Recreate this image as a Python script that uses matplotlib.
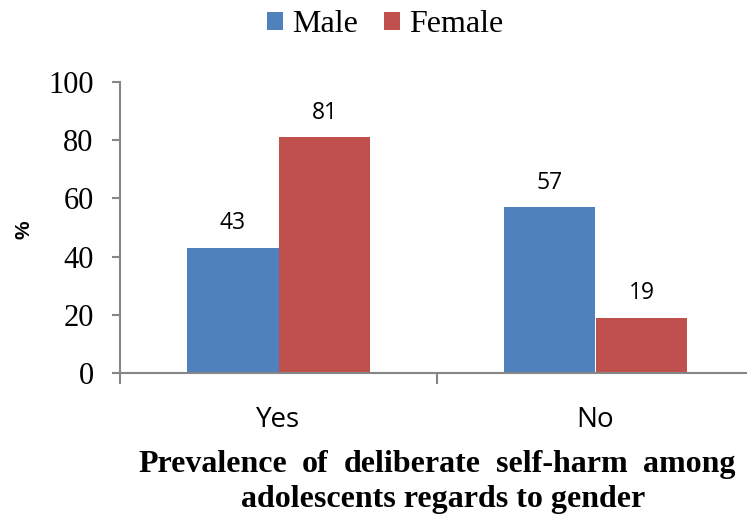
import matplotlib
matplotlib.use("Agg")
import matplotlib.pyplot as plt
import numpy as np
from matplotlib.patches import Patch
from matplotlib.font_manager import FontProperties

categories = ["Yes", "No"]
series_names = ["Male", "Female"]
male = [43, 57]
female = [81, 19]
colors = ["#4F81BD", "#C0504D"]
yticks = [0, 20, 40, 60, 80, 100]
title_line1 = ["Prevalence", "of", "deliberate", "self-harm", "among"]
title_line2 = "adolescents regards to gender"

W, H, DPI = 747, 515, 100
fig = plt.figure(figsize=(W / DPI, H / DPI), dpi=DPI)
ax = fig.add_axes([120 / W, (H - 373) / H, 1 - 120 / W, (373 - 82) / H])

x = np.arange(len(categories))
bw = 0.29
axis_gray = "#868686"

for i, (vals, name) in enumerate(zip([male, female], series_names)):
    pos = x + (i - 0.5) * bw
    ax.bar(pos, vals, width=bw, color=colors[i], label=name, zorder=2)
    for p, v in zip(pos, vals):
        ax.annotate(f"{v}", (p, v), xytext=(0, 9), textcoords="offset points",
                    ha="center", va="bottom", fontsize=16.5, family="Open Sans",
                    color="black")

ax.set_ylim(0, 100)
ax.set_xlim(-0.5, 0.5 + (W - 437) / 317)
ax.set_yticks(yticks)
ax.set_yticklabels([str(t) for t in yticks], family="Liberation Serif", fontsize=22)
ax.tick_params(axis="y", length=6, width=1.5, color=axis_gray, pad=13)

ax.set_xticks(x)
ax.set_xticklabels(categories, family="Open Sans", fontsize=20)
ax.tick_params(axis="x", which="major", length=0, pad=24)
ax.set_xticks([-0.5, 0.5], minor=True)
ax.tick_params(axis="x", which="minor", length=8, width=1.5, color=axis_gray)

for side in ["top", "right"]:
    ax.spines[side].set_visible(False)
for side in ["left", "bottom"]:
    ax.spines[side].set_color(axis_gray)
    ax.spines[side].set_linewidth(1.5)

fig.text(24 / W, 1 - 230 / H, "%", rotation=90, ha="center", va="center",
         fontsize=15, fontweight="bold", family="Liberation Sans")

legend_font = FontProperties(family="Liberation Serif", size=23)
handles = [Patch(facecolor=c, edgecolor="none") for c in colors]
fig.legend(handles, series_names, loc="center", bbox_to_anchor=(385 / W, 1 - 25 / H),
           ncol=2, frameon=False, prop=legend_font,
           handlelength=0.5, handleheight=0.5, handletextpad=0.3,
           columnspacing=0.8, borderaxespad=0, borderpad=0)

# Justified first title line, centered second line
title_props = dict(fontsize=23, fontweight="bold", family="Liberation Serif",
                   va="baseline")
renderer = fig.canvas.get_renderer()
x0, x1 = 138, 735
y1 = 1 - 472 / H
words = [fig.text(0, y1, w, ha="left", **title_props) for w in title_line1]
widths = [t.get_window_extent(renderer).width for t in words]
gap = (x1 - x0 - sum(widths)) / (len(words) - 1)
cur = x0
for t, w in zip(words, widths):
    t.set_x(cur / W)
    cur += w + gap
fig.text(443 / W, 1 - 507 / H, title_line2, ha="center", **title_props)

fig.savefig("out.png", dpi=DPI)
